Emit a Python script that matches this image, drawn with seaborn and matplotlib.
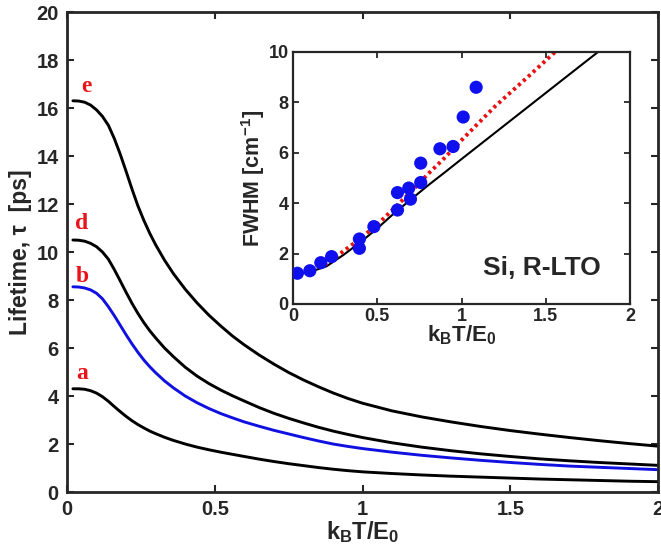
import numpy as np
import pandas as pd
import matplotlib
matplotlib.use("Agg")
import matplotlib.pyplot as plt
import seaborn as sns

# ---------------- data ----------------
x_main = [0.02, 0.04, 0.06, 0.08, 0.10, 0.12, 0.14, 0.16, 0.18, 0.20, 0.22, 0.24,
          0.26, 0.28, 0.30, 0.33, 0.36, 0.40, 0.44, 0.48, 0.52, 0.56, 0.60, 0.65,
          0.70, 0.75, 0.80, 0.85, 0.90, 0.95, 1.0, 1.1, 1.2, 1.3, 1.4, 1.5, 1.6,
          1.7, 1.8, 1.9, 2.0]
tau_e = [16.30, 16.29, 16.24, 16.12, 15.92, 15.65, 15.28, 14.73, 14.08, 13.36,
         12.62, 11.92, 11.32, 10.78, 10.30, 9.66, 9.10, 8.45, 7.88, 7.37, 6.92,
         6.50, 6.13, 5.71, 5.33, 4.98, 4.67, 4.39, 4.13, 3.90, 3.70, 3.38, 3.13,
         2.92, 2.73, 2.56, 2.41, 2.27, 2.14, 2.02, 1.91]
tau_d = [10.50, 10.49, 10.45, 10.36, 10.22, 10.00, 9.70, 9.27, 8.80, 8.32, 7.86,
         7.44, 7.06, 6.72, 6.42, 6.00, 5.64, 5.20, 4.83, 4.52, 4.25, 4.01, 3.79,
         3.52, 3.28, 3.07, 2.88, 2.70, 2.54, 2.40, 2.27, 2.05, 1.87, 1.72, 1.59,
         1.48, 1.38, 1.30, 1.23, 1.17, 1.11]
tau_b = [8.55, 8.54, 8.50, 8.42, 8.28, 8.05, 7.72, 7.35, 6.95, 6.55, 6.17, 5.82,
         5.50, 5.22, 4.97, 4.63, 4.34, 4.00, 3.72, 3.48, 3.27, 3.09, 2.92, 2.74,
         2.57, 2.42, 2.27, 2.13, 2.00, 1.90, 1.81, 1.66, 1.53, 1.42, 1.32, 1.23,
         1.15, 1.08, 1.03, 0.98, 0.93]
tau_a = [4.30, 4.30, 4.28, 4.22, 4.12, 3.97, 3.78, 3.56, 3.35, 3.15, 2.97, 2.81,
         2.67, 2.54, 2.43, 2.28, 2.15, 2.00, 1.87, 1.76, 1.66, 1.57, 1.48, 1.37,
         1.27, 1.18, 1.10, 1.02, 0.95, 0.89, 0.84, 0.77, 0.71, 0.66, 0.62, 0.58,
         0.54, 0.51, 0.48, 0.45, 0.43]
curve_labels = ["a", "b", "d", "e"]
label_pos_x = [0.051, 0.051, 0.051, 0.066]
label_pos_y = [4.95, 9.0, 11.2, 16.9]

# inset
exp_x = [0.026, 0.10, 0.165, 0.229, 0.394, 0.394, 0.48, 0.62, 0.62, 0.687,
         0.697, 0.758, 0.758, 0.872, 0.95, 1.01, 1.087]
exp_fwhm = [1.22, 1.32, 1.64, 1.88, 2.58, 2.21, 3.07, 4.42, 3.73, 4.6,
            4.16, 5.59, 4.82, 6.16, 6.25, 7.42, 8.6]
theory_x = [0.0, 0.1, 0.2, 0.3, 0.4, 0.5, 0.6, 0.7, 0.8, 0.9, 1.0, 1.2, 1.4, 1.6, 1.81]
theory_fwhm = [1.2, 1.27, 1.5, 1.95, 2.45, 3.0, 3.6, 4.15, 4.7, 5.22, 5.75, 6.8, 7.85, 8.9, 10.0]
fit_x = [0.0, 0.1, 0.2, 0.3, 0.4, 0.5, 0.6, 0.7, 0.8, 0.9, 1.0, 1.2, 1.4, 1.555]
fit_fwhm = [1.2, 1.3, 1.6, 2.1, 2.6, 3.15, 3.8, 4.45, 5.15, 5.8, 6.5, 7.85, 9.05, 10.0]

# ---------------- style ----------------
sns.set_theme(style="ticks")
plt.rcParams["font.family"] = ["Liberation Sans", "DejaVu Sans"]
plt.rcParams["font.weight"] = "bold"
plt.rcParams["mathtext.fontset"] = "custom"
plt.rcParams["mathtext.rm"] = "Liberation Sans:bold"
plt.rcParams["mathtext.it"] = "Liberation Sans:bold"
plt.rcParams["mathtext.bf"] = "Liberation Sans:bold"
plt.rcParams["axes.linewidth"] = 2.0

fig = plt.figure(figsize=(6.61, 5.52), dpi=100)
fig.patch.set_facecolor("white")
ax = fig.add_axes([67 / 661, 60 / 552, 591 / 661, 480 / 552])

df = pd.DataFrame({"x": x_main, "a": tau_a, "b": tau_b, "d": tau_d, "e": tau_e})
colors = {"a": "black", "b": "#1010e0", "d": "black", "e": "black"}
for c in ["a", "d", "e", "b"]:
    sns.lineplot(data=df, x="x", y=c, ax=ax, color=colors[c], linewidth=2.1)

for lab, lx, ly in zip(curve_labels, label_pos_x, label_pos_y):
    ax.text(lx, ly, lab, color="#e8141c", fontsize=17, fontweight="bold",
            family=["Liberation Serif"], ha="center", va="center")

ax.set_xlim(0, 2)
ax.set_ylim(0, 20)
ax.set_xticks([0, 0.5, 1, 1.5, 2])
ax.set_xticklabels(["0", "0.5", "1", "1.5", "2"])
ax.set_yticks(range(0, 21, 2))
ax.tick_params(direction="in", length=5, width=1.5, labelsize=14.5, top=True, right=True, pad=6)
for lbl in ax.get_xticklabels() + ax.get_yticklabels():
    lbl.set_fontweight("bold")
ax.set_xlabel(r"k$_\mathrm{B}$T/E$_\mathrm{0}$", fontsize=17, fontweight="bold", labelpad=0)
ax.set_ylabel("Lifetime, τ  [ps]", fontsize=16.5, fontweight="bold", labelpad=3)

# ---------------- inset ----------------
axi = fig.add_axes([293 / 661, 248 / 552, 337 / 661, 252 / 552])
dfi_t = pd.DataFrame({"x": theory_x, "y": theory_fwhm})
dfi_f = pd.DataFrame({"x": fit_x, "y": fit_fwhm})
dfi_e = pd.DataFrame({"x": exp_x, "y": exp_fwhm})
sns.lineplot(data=dfi_t, x="x", y="y", ax=axi, color="black", linewidth=1.5)
sns.lineplot(data=dfi_f, x="x", y="y", ax=axi, color="#e81010", linewidth=2.8,
             linestyle=(0, (0.8, 0.9)))
sns.scatterplot(data=dfi_e, x="x", y="y", ax=axi, color="#1010ee", s=90,
                edgecolor="none", zorder=5)
axi.set_xlim(0, 2)
axi.set_ylim(0, 10)
axi.set_xticks([0, 0.5, 1, 1.5, 2])
axi.set_xticklabels(["0", "0.5", "1", "1.5", "2"])
axi.set_yticks([0, 2, 4, 6, 8, 10])
axi.tick_params(direction="in", length=4, width=1.3, labelsize=13, top=True, right=True, pad=3)
for lbl in axi.get_xticklabels() + axi.get_yticklabels():
    lbl.set_fontweight("bold")
for s in axi.spines.values():
    s.set_linewidth(1.6)
axi.set_xlabel(r"k$_\mathrm{B}$T/E$_\mathrm{0}$", fontsize=16, fontweight="bold", labelpad=-1)
axi.set_ylabel(r"FWHM [cm$^{-1}$]", fontsize=15.5, fontweight="bold", labelpad=1)
axi.text(1.478, 1.43, "Si, R-LTO", fontsize=19, fontweight="bold", ha="center", va="center")

fig.savefig("out.png", dpi=100, facecolor="white")
